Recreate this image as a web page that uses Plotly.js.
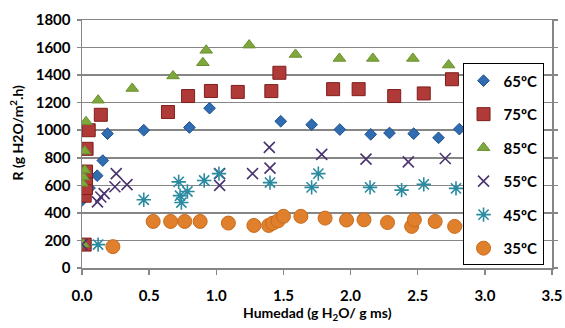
<!DOCTYPE html>
<html>
<head>
<meta charset="utf-8">
<script src="https://cdn.plot.ly/plotly-3.0.1.min.js"></script>
<style>html,body{margin:0;padding:0;background:#fff;}#chart{width:565px;height:328px;}</style>
</head>
<body>
<div id="chart"></div>
<script>
// Series data
const x65 = [0.0, 0.056, 0.113, 0.155, 0.19, 0.46, 0.80, 0.95, 1.48, 1.71, 1.92, 2.15, 2.29, 2.47, 2.655, 2.81];
const y65 = [490, 580, 670, 780, 975, 1000, 1020, 1160, 1065, 1040, 1005, 970, 980, 975, 945, 1008];

const x75 = [0.02, 0.02, 0.03, 0.03, 0.03, 0.034, 0.05, 0.14, 0.64, 0.79, 0.96, 1.16, 1.41, 1.47, 1.87, 2.06, 2.325, 2.545, 2.755];
const y75 = [170, 525, 580, 650, 700, 865, 1000, 1112, 1132, 1248, 1285, 1278, 1284, 1417, 1298, 1298, 1248, 1267, 1370];

const x85 = [0.01, 0.0, 0.01, 0.02, 0.02, 0.03, 0.12, 0.374, 0.678, 0.90, 0.925, 1.245, 1.59, 1.917, 2.166, 2.464, 2.73];
const y85 = [172, 615, 660, 710, 848, 1061, 1218, 1303, 1394, 1490, 1580, 1618, 1550, 1521, 1521, 1521, 1473];

const x55 = [0.0, 0.115, 0.14, 0.165, 0.245, 0.255, 0.335, 1.025, 1.025, 1.27, 1.395, 1.40, 1.785, 2.115, 2.43, 2.705];
const y55 = [170, 480, 515, 540, 590, 685, 605, 685, 600, 685, 875, 725, 825, 790, 770, 795];

const x45 = [0.12, 0.46, 0.72, 0.73, 0.74, 0.785, 0.91, 1.02, 1.40, 1.71, 1.76, 2.145, 2.38, 2.545, 2.785];
const y45 = [170, 495, 625, 525, 475, 555, 635, 685, 620, 585, 685, 585, 565, 607, 578];

const x35 = [0.23, 0.53, 0.66, 0.765, 0.88, 1.09, 1.28, 1.39, 1.42, 1.46, 1.50, 1.63, 1.81, 1.97, 2.10, 2.275, 2.455, 2.475, 2.63, 2.775, 2.89];
const y35 = [155, 338, 338, 338, 338, 326, 309, 309, 325, 342, 375, 375, 362, 348, 350, 330, 302, 350, 338, 302, 309];

const seriesNames = ['65ºC', '75ºC', '85ºC', '55ºC', '45ºC', '35ºC'];
const yTicks = [0, 200, 400, 600, 800, 1000, 1200, 1400, 1600, 1800];
const xTicks = [0.0, 0.5, 1.0, 1.5, 2.0, 2.5, 3.0, 3.5];
const xTickText = ['0.0', '0.5', '1.0', '1.5', '2.0', '2.5', '3.0', '3.5'];
const xTitle = 'Humedad (g H<sub>2</sub>O/ g ms)';
const yTitle = 'R (g H2O/m<sup>2</sup>.h)';

const FONT = 'Lato, "Open Sans", sans-serif';
const TFONT = {family: FONT, size: 14, color: '#000', weight: 'bold'};

const traces = [
  {x: x65, y: y65, name: seriesNames[0], marker: {symbol: 'diamond', size: 9, color: '#2F6CB2', line: {color: '#1F4F8A', width: 1}}},
  {x: x75, y: y75, name: seriesNames[1], marker: {symbol: 'square', size: 13, color: '#B03A38', line: {color: '#7E1E1C', width: 1}}},
  {x: x85, y: y85, name: seriesNames[2], marker: {symbol: 'triangle-up', size: 11, color: '#7FA83C', line: {color: '#6A8F30', width: 1}}},
  {x: x55, y: y55, name: seriesNames[3], marker: {symbol: 'x-thin-open', size: 11, color: '#4A3470', line: {color: '#4A3470', width: 1.6}}},
  {x: x45, y: y45, name: seriesNames[4], marker: {symbol: 'asterisk-open', size: 12, color: '#2A8BA0', line: {color: '#2A8BA0', width: 1.6}}},
  {x: x35, y: y35, name: seriesNames[5], marker: {symbol: 'circle', size: 14, color: '#E0802C', line: {color: '#C86B1E', width: 1}}}
].map((t, i) => Object.assign({type: 'scatter', mode: 'markers', legendgroup: 'g' + i}, t));

const layout = {
  width: 565, height: 328,
  margin: {l: 82, r: 13, t: 20, b: 60},
  paper_bgcolor: '#ffffff', plot_bgcolor: '#ffffff',
  font: {family: FONT, size: 14, color: '#000', weight: 'bold'},
  showlegend: true,
  legend: {
    x: 0.982, xanchor: 'right', y: 0.825, yanchor: 'top',
    bgcolor: '#ffffff', bordercolor: '#000', borderwidth: 1,
    font: {family: FONT, size: 15, color: '#000', weight: 'bold'},
    tracegroupgap: 11, itemwidth: 30, itemsizing: 'trace'
  },
  xaxis: {
    range: [0, 3.5], tickvals: xTicks, ticktext: xTickText,
    showgrid: false, zeroline: false,
    showline: true, linecolor: '#868686', linewidth: 1.5, mirror: true,
    ticks: 'outside', ticklen: 5, tickcolor: '#868686', tickwidth: 1.5,
    ticklabelstandoff: 8,
    tickfont: {family: FONT, size: 15, color: '#000', weight: 'bold'}
  },
  yaxis: {
    range: [0, 1800], tickvals: yTicks,
    showgrid: true, gridcolor: '#868686', gridwidth: 1.5, zeroline: false,
    showline: true, linecolor: '#868686', linewidth: 1.5, mirror: 'ticks',
    ticks: 'outside', ticklen: 4, tickcolor: '#868686', tickwidth: 1.5,
    ticklabelstandoff: 3,
    tickfont: {family: FONT, size: 15, color: '#000', weight: 'bold'}
  },
  annotations: [
    {text: xTitle, xref: 'paper', yref: 'paper', x: 0.5, y: 0, xanchor: 'center', yanchor: 'middle',
     yshift: -45, showarrow: false, font: TFONT},
    {text: yTitle, xref: 'paper', yref: 'paper', x: 0, y: 0.5, xanchor: 'center', yanchor: 'middle',
     xshift: -65.5, yshift: 11, textangle: -90, showarrow: false, font: TFONT}
  ]
};

Plotly.newPlot('chart', traces, layout, {displayModeBar: false, staticPlot: true});
</script>
</body>
</html>
